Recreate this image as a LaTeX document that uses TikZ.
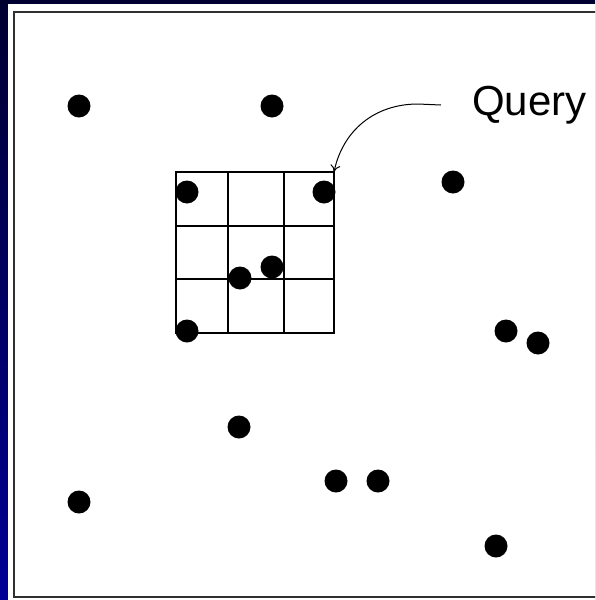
\documentclass[tikz,border=0pt]{standalone}
\usepackage{fontspec}
\setmainfont{Liberation Sans}
\usetikzlibrary{arrows.meta}
\definecolor{navytop}{HTML}{000030}
\definecolor{navybot}{HTML}{000096}
\definecolor{framegray}{HTML}{303030}
\tikzset{
  pt/.style={circle, fill=black, inner sep=0pt, minimum size=23pt},
  gridline/.style={line width=1.6pt, black},
  frameline/.style={line width=2pt, framegray},
  callout/.style={line width=1pt, -{To[length=7pt,width=10pt]}},
}
\begin{document}
\begin{tikzpicture}[x=1pt,y=-1pt]
\useasboundingbox (0,0) rectangle (595,600);
\clip (0,0) rectangle (595,600);
\shade[top color=navytop, bottom color=navybot] (0,0) rectangle (595,600);
\fill[white] (8,4) rectangle (600,605);
\draw[frameline] (14,12) rectangle (610,597);
% grid
\draw[gridline] (176,172) rectangle (334,333);
\draw[gridline] (228,172) -- (228,333);
\draw[gridline] (284,172) -- (284,333);
\draw[gridline] (176,226) -- (334,226);
\draw[gridline] (176,279) -- (334,279);
\coordinate (gridne) at (334,172);
% points
\node[pt] (p1) at (79,106) {};
\node[pt] (p2) at (272,106) {};
\node[pt] (p3) at (453,182) {};
\node[pt] (p4) at (506,331) {};
\node[pt] (p5) at (538,343) {};
\node[pt] (p6) at (239,427) {};
\node[pt] (p7) at (79,502) {};
\node[pt] (p8) at (336,481) {};
\node[pt] (p9) at (378,481) {};
\node[pt] (p10) at (496,546) {};
\node[pt] (g1) at (187,192) {};
\node[pt] (g2) at (324,192) {};
\node[pt] (g3) at (240,278) {};
\node[pt] (g4) at (272,267) {};
\node[pt] (g5) at (187,331) {};
% label
\node[anchor=base west, inner sep=0pt, font=\fontsize{42}{42}\selectfont] (query) at (472,115) {Query};
\coordinate (qstart) at (441,105);
\draw[callout] (qstart) -- (418,104) .. controls (375,104) and (343,130) .. (gridne);
\end{tikzpicture}
\end{document}
